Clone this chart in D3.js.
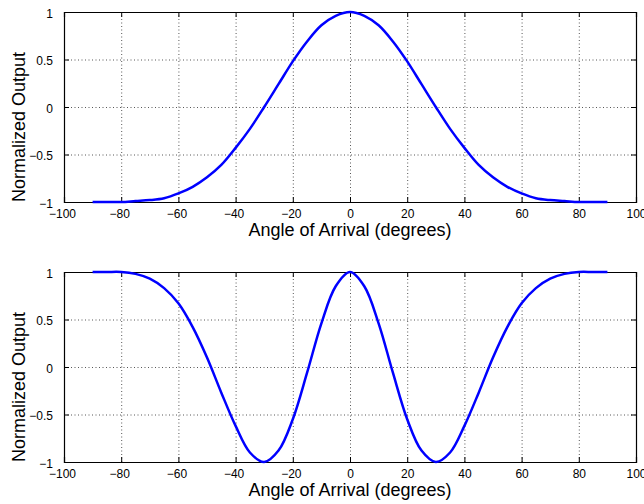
<!DOCTYPE html>
<html>
<head>
<meta charset="utf-8">
<script src="https://cdn.jsdelivr.net/npm/d3@7"></script>
<style>
  html, body { margin: 0; padding: 0; background: #fff; }
  svg { display: block; font-family: "Liberation Sans", Arial, Helvetica, sans-serif; }
</style>
</head>
<body>
<svg id="chart" width="644" height="504"></svg>
<script>
// Angle of arrival samples (degrees)
const angles = [-90,-85,-80,-75,-70,-65,-60,-55,-50,-45,-40,-35,-30,-25,-20,-15,-10,-5,0,
                5,10,15,20,25,30,35,40,45,50,55,60,65,70,75,80,85,90];

// Normalized output, upper panel
const outputTop = [-1.00,-1.00,-1.00,-0.99,-0.98,-0.96,-0.91,-0.84,-0.74,-0.61,-0.43,-0.23,0.00,
                   0.24,0.48,0.69,0.86,0.96,1.00,
                   0.96,0.86,0.69,0.48,0.24,0.00,-0.23,-0.43,-0.61,-0.74,-0.84,-0.91,-0.96,-0.98,-0.99,-1.00,-1.00,-1.00];

// Normalized output, lower panel
const outputBottom = [1.00,1.00,1.00,0.98,0.93,0.83,0.67,0.42,0.10,-0.27,-0.62,-0.90,-1.00,
                      -0.88,-0.55,-0.06,0.46,0.85,1.00,
                      0.85,0.46,-0.06,-0.55,-0.88,-1.00,-0.90,-0.62,-0.27,0.10,0.42,0.67,0.83,0.93,0.98,1.00,1.00,1.00];

const xTicks = [-100,-80,-60,-40,-20,0,20,40,60,80,100];
const yTicks = [-1,-0.5,0,0.5,1];
const xLabel = "Angle of Arrival (degrees)";
const yLabel = "Normalized Output";

const svg = d3.select("#chart");
const fmt = v => (v < 0 ? "\u2212" : "") + Math.abs(v);

const left = 64, right = 636, plotH = 190;
const panels = [
  { top: 12,  values: outputTop },
  { top: 272, values: outputBottom }
];

panels.forEach(p => {
  const x = d3.scaleLinear().domain([-100, 100]).range([left, right]);
  const y = d3.scaleLinear().domain([-1, 1]).range([p.top + plotH, p.top]);
  const g = svg.append("g");

  // dotted grid
  g.append("g").selectAll("line").data(xTicks.slice(1, -1)).join("line")
    .attr("x1", d => x(d) + 0.5).attr("x2", d => x(d) + 0.5)
    .attr("y1", y(1)).attr("y2", y(-1))
    .attr("stroke", "#444").attr("stroke-width", 0.9).attr("stroke-dasharray", "1,2.5");
  g.append("g").selectAll("line").data(yTicks.slice(1, -1)).join("line")
    .attr("x1", x(-100)).attr("x2", x(100))
    .attr("y1", d => y(d) + 0.5).attr("y2", d => y(d) + 0.5)
    .attr("stroke", "#444").attr("stroke-width", 0.9).attr("stroke-dasharray", "1,2.5");

  // axes (ticks inside, on all four sides)
  const tl = 5;
  const bottomAxis = g.append("g").attr("transform", `translate(0,${y(-1)})`)
    .call(d3.axisBottom(x).tickValues(xTicks).tickSize(-tl).tickPadding(tl + 2).tickFormat(fmt));
  bottomAxis.selectAll(".tick text").attr("dx", d => d < 0 ? -2 : 0);
  g.append("g").attr("transform", `translate(0,${y(1)})`)
    .call(d3.axisTop(x).tickValues(xTicks).tickSize(-tl).tickFormat(""));
  const leftAxis = g.append("g").attr("transform", `translate(${x(-100)},0)`)
    .call(d3.axisLeft(y).tickValues(yTicks).tickSize(-tl).tickPadding(tl + 6).tickFormat(fmt));
  leftAxis.selectAll(".tick text").attr("dy", "0.45em");
  g.append("g").attr("transform", `translate(${x(100)},0)`)
    .call(d3.axisRight(y).tickValues(yTicks).tickSize(-tl).tickFormat(""));

  g.selectAll(".domain").attr("stroke", "#000").attr("stroke-width", 1.2);
  g.selectAll(".tick line").attr("stroke", "#000");
  g.selectAll(".tick text").attr("font-size", 12).attr("fill", "#000")
    .attr("font-family", "Liberation Sans, Arial, sans-serif");

  // curve
  const line = d3.line()
    .x((d, i) => x(angles[i]))
    .y(d => y(d))
    .curve(d3.curveCatmullRom.alpha(0.5));
  g.append("path").datum(p.values)
    .attr("d", line).attr("fill", "none")
    .attr("stroke", "#0000ff").attr("stroke-width", 2.5).attr("stroke-linejoin", "round");

  // axis titles
  g.append("text").attr("x", (left + right) / 2).attr("y", p.top + plotH + 34)
    .attr("text-anchor", "middle").attr("font-size", 18).text(xLabel);
  g.append("text")
    .attr("transform", `translate(25,${p.top + plotH / 2 + 20}) rotate(-90)`)
    .attr("text-anchor", "middle").attr("font-size", 18).text(yLabel);
});
</script>
</body>
</html>
